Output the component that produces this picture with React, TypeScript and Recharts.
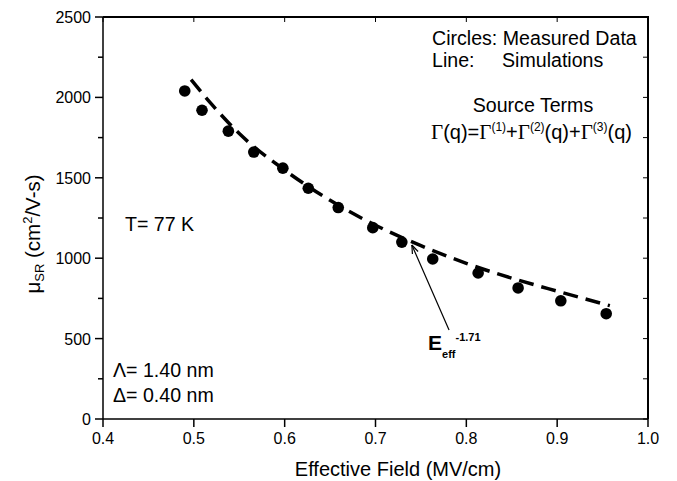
import { ComposedChart, Customized, Line, ReferenceLine, Scatter, XAxis, YAxis } from "recharts";

const FONT = "'Liberation Sans', Arial, sans-serif";
const SERIF = "'Liberation Serif', 'Times New Roman', serif";

// Circles: measured surface-roughness mobility
const measuredField = [0.49, 0.509, 0.538, 0.566, 0.598, 0.626, 0.659, 0.697, 0.729, 0.763, 0.813, 0.857, 0.904, 0.954];
const measuredMobility = [2040, 1920, 1790, 1660, 1560, 1435, 1315, 1190, 1100, 995, 908, 815, 735, 655];

// Line: simulation (dashed)
const simField = [0.497, 0.52, 0.55, 0.6, 0.65, 0.7, 0.75, 0.8, 0.85, 0.9, 0.958];
const simMobility = [2110, 1955, 1775, 1548, 1360, 1205, 1078, 968, 876, 795, 705];

const xTicks = [0.4, 0.5, 0.6, 0.7, 0.8, 0.9, 1.0];
const yTicks = [0, 250, 500, 750, 1000, 1250, 1500, 1750, 2000, 2250, 2500];
const xMin = 0.4;
const xMax = 1.0;
const yMin = 0;
const yMax = 2500;

// arrow pointing at the curve, in data units
const arrowTail = { x: 0.781, y: 553 };
const arrowHead = { x: 0.74, y: 1082 };

const measured = measuredField.map((field, i) => ({ field, mobility: measuredMobility[i] }));
const simulated = simField.map((field, i) => ({ field, mobility: simMobility[i] }));

// chart box
const W = 677;
const H = 481;
const MARGIN = { top: 17, right: 29, bottom: 32, left: 43 };
const Y_AXIS_W = 60;
const X_AXIS_H = 30;
const PLOT = {
  left: MARGIN.left + Y_AXIS_W,
  right: W - MARGIN.right,
  top: MARGIN.top,
  bottom: H - MARGIN.bottom - X_AXIS_H,
};

function LeftTick({ x, y, payload }: any) {
  const major = payload.value % 500 === 0;
  const len = major ? 8 : 5;
  return (
    <g>
      <line x1={x - len} x2={x} y1={y} y2={y} stroke="#000" strokeWidth={1.5} />
      {major ? (
        <text x={x - 12} y={y} dy={6} textAnchor="end" fontFamily={FONT} fontSize={16} fill="#000">
          {payload.value}
        </text>
      ) : null}
    </g>
  );
}

function Arrow({ x1, y1, x2, y2 }: any) {
  const a = Math.atan2(y2 - y1, x2 - x1);
  const h = 9;
  const w = 0.35;
  return (
    <g stroke="#000" strokeWidth={1.2} fill="none">
      <line x1={x1} y1={y1} x2={x2} y2={y2} />
      <line x1={x2} y1={y2} x2={x2 - h * Math.cos(a - w)} y2={y2 - h * Math.sin(a - w)} />
      <line x1={x2} y1={y2} x2={x2 - h * Math.cos(a + w)} y2={y2 - h * Math.sin(a + w)} />
    </g>
  );
}

// top and right side of the box, with small inward ticks
function Frame() {
  const px = (v: number) => PLOT.left + ((v - xMin) / (xMax - xMin)) * (PLOT.right - PLOT.left);
  const py = (v: number) => PLOT.bottom - ((v - yMin) / (yMax - yMin)) * (PLOT.bottom - PLOT.top);
  return (
    <g>
      <line x1={PLOT.left} x2={PLOT.right + 1} y1={PLOT.top} y2={PLOT.top} stroke="#000000" strokeWidth={2} />
      <line x1={PLOT.right} x2={PLOT.right} y1={PLOT.top} y2={PLOT.bottom} stroke="#000000" strokeWidth={2} />
      {xTicks.map((v) => (
        <line key={`t${v}`} x1={px(v)} x2={px(v)} y1={PLOT.top} y2={PLOT.top + 5} stroke="#000000" strokeWidth={1} />
      ))}
      {yTicks.map((v) => (
        <line key={`r${v}`} x1={PLOT.right - 5} x2={PLOT.right} y1={py(v)} y2={py(v)} stroke="#000000" strokeWidth={1} />
      ))}
    </g>
  );
}

function Annotations() {
  const t = { fontFamily: FONT, fill: "#000" };
  return (
    <g>
      <Frame />
      <text x={432} y={45} fontSize={19.6} {...t}>Circles: Measured Data</text>
      <text x={432} y={67} fontSize={19.6} {...t}>Line:<tspan x={502}>Simulations</tspan></text>
      <text x={533} y={112} fontSize={19.6} textAnchor="middle" {...t}>Source Terms</text>
      <text x={431} y={139} fontSize={20} {...t}>
        <tspan fontFamily={SERIF} fontSize={21}>Γ</tspan>(q)=<tspan fontFamily={SERIF} fontSize={21}>Γ</tspan>
        <tspan dy={-8} fontSize={12}>(1)</tspan>
        <tspan dy={8}>+</tspan><tspan fontFamily={SERIF} fontSize={21}>Γ</tspan>
        <tspan dy={-8} fontSize={12}>(2)</tspan>
        <tspan dy={8}>(q)+</tspan><tspan fontFamily={SERIF} fontSize={21}>Γ</tspan>
        <tspan dy={-8} fontSize={12}>(3)</tspan>
        <tspan dy={8}>(q)</tspan>
      </text>
      <text x={125} y={231} fontSize={19.6} {...t}>T= 77 K</text>
      <text x={113} y={377} fontSize={19.6} {...t}>Λ= 1.40 nm</text>
      <text x={113} y={402} fontSize={19.6} {...t}>Δ= 0.40 nm</text>
      <text x={428} y={350} fontSize={21} fontWeight="bold" {...t}>
        E<tspan dy={8} fontSize={11}>eff</tspan>
        <tspan dy={-17} fontSize={11}>-1.71</tspan>
      </text>
      <text x={398} y={476} fontSize={20} textAnchor="middle" {...t}>Effective Field (MV/cm)</text>
      <text x={40} y={234} fontSize={20.5} textAnchor="middle" transform="rotate(-90, 40, 234)" {...t}>
        μ<tspan dy={4} fontSize={13}>SR</tspan>
        <tspan dy={-4}> (cm</tspan>
        <tspan dy={-8} fontSize={13}>2</tspan>
        <tspan dy={8}>/V-s)</tspan>
      </text>
    </g>
  );
}

export default function App() {
  const axisLine = { stroke: "#000", strokeWidth: 1.5 };
  return (
    <div style={{ position: "absolute", left: 0, top: 0, width: W, height: H, background: "#fff" }}>
      <ComposedChart width={W} height={H} margin={MARGIN}>
        <XAxis
          dataKey="field"
          type="number"
          domain={[xMin, xMax]}
          ticks={xTicks}
          tickFormatter={(v) => Number(v).toFixed(1)}
          axisLine={axisLine}
          tickLine={axisLine}
          tickSize={8}
          tickMargin={6}
          height={X_AXIS_H}
          tick={{ fontSize: 16, fill: "#000", fontFamily: FONT }}
        />
        <YAxis
          type="number"
          domain={[yMin, yMax]}
          ticks={yTicks}
          interval={0}
          width={Y_AXIS_W}
          axisLine={axisLine}
          tickLine={false}
          tickSize={0}
          tickMargin={0}
          tick={<LeftTick />}
        />
        <Line
          data={simulated}
          dataKey="mobility"
          type="monotone"
          stroke="#000"
          strokeWidth={3.5}
          strokeDasharray="15 8"
          dot={false}
          activeDot={false}
          isAnimationActive={false}
        />
        <Scatter
          data={measured}
          dataKey="mobility"
          fill="#000"
          shape={(p: any) => <circle cx={p.cx} cy={p.cy} r={5.8} fill="#000" />}
          isAnimationActive={false}
        />
        <ReferenceLine segment={[arrowTail, arrowHead]} shape={<Arrow />} ifOverflow="visible" />
        <Customized component={Annotations} />
      </ComposedChart>
    </div>
  );
}
